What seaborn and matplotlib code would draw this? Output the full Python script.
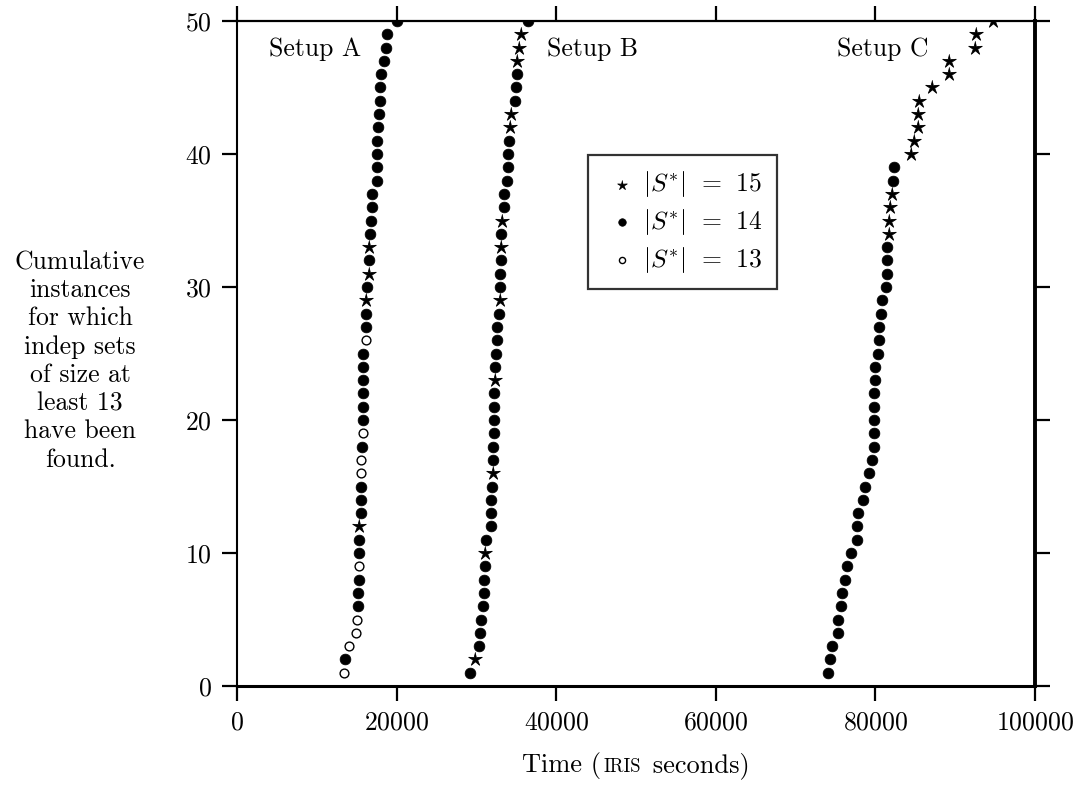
import numpy as np
import pandas as pd
import seaborn as sns
import matplotlib.pyplot as plt
from matplotlib.offsetbox import TextArea, HPacker, AnnotationBbox

# cumulative instance count (y) and time at which it was reached (x)
counts = list(range(1, 51))

times_a = [13350, 13570, 13980, 14950, 15040, 15160, 15160, 15330, 15330, 15330,
           15330, 15330, 15540, 15540, 15540, 15540, 15540, 15670, 15740, 15740,
           15740, 15740, 15740, 15800, 15800, 16210, 16210, 16210, 16210, 16290,
           16500, 16500, 16500, 16710, 16800, 16920, 16920, 17550, 17550, 17550,
           17550, 17630, 17840, 17880, 17970, 18090, 18380, 18680, 18810, 20060]
sizes_a = [13, 14, 13, 13, 13, 14, 14, 14, 13, 14,
           14, 15, 14, 14, 14, 13, 13, 14, 13, 14,
           14, 14, 14, 14, 14, 13, 14, 14, 15, 14,
           15, 14, 15, 14, 14, 14, 14, 14, 14, 14,
           14, 14, 14, 14, 14, 14, 14, 14, 14, 14]

times_b = [29150, 29770, 30310, 30440, 30530, 30820, 30940, 30940, 31030, 31030,
           31160, 31780, 31870, 31870, 32000, 32120, 32120, 32120, 32200, 32200,
           32200, 32200, 32320, 32320, 32410, 32540, 32630, 32830, 32950, 32950,
           32950, 33040, 33040, 33130, 33250, 33460, 33460, 33880, 33960, 33960,
           34080, 34210, 34300, 34840, 35010, 35050, 35050, 35340, 35640, 36520]
sizes_b = [14, 15, 14, 14, 14, 14, 14, 14, 14, 15,
           14, 14, 14, 14, 14, 15, 14, 14, 14, 14,
           14, 14, 15, 14, 14, 14, 14, 14, 15, 14,
           14, 14, 15, 14, 15, 14, 14, 14, 14, 14,
           14, 15, 15, 14, 14, 14, 15, 15, 15, 14]

times_c = [74080, 74280, 74500, 75250, 75250, 75670, 75840, 76170, 76380, 76920,
           77640, 77640, 77760, 78480, 78680, 79180, 79610, 79860, 79860, 79860,
           79860, 79860, 79940, 79940, 80360, 80440, 80490, 80690, 80870, 81280,
           81410, 81410, 81410, 81700, 81700, 81820, 82120, 82250, 82370, 84420,
           84890, 85390, 85390, 85470, 87150, 89280, 89280, 92500, 92630, 94720]
sizes_c = [14] * 33 + [15, 15, 15, 15, 14, 14] + [15] * 11

setup_names = ["Setup A", "Setup B", "Setup C"]
label_pos = [(4000, 47.9), (38900, 47.9), (75200, 47.9)]

df = pd.concat([
    pd.DataFrame({"time": t, "count": counts, "size": s, "setup": n})
    for t, s, n in zip([times_a, times_b, times_c], [sizes_a, sizes_b, sizes_c], setup_names)
])

plt.rcParams["font.family"] = "cmr10"
plt.rcParams["mathtext.fontset"] = "cm"
plt.rcParams["axes.unicode_minus"] = False
plt.rcParams["axes.formatter.use_mathtext"] = True

FS = 18.5

# thin five pointed star
ang = np.pi / 2 + np.arange(10) * np.pi / 5
rad = np.where(np.arange(10) % 2 == 0, 1.0, 0.32)
star = np.column_stack([rad * np.cos(ang), rad * np.sin(ang)])

fig = plt.figure(figsize=(10.83, 7.89), dpi=100)
ax = fig.add_axes([0.2188, 0.1305, 0.7369, 0.8429])

styles = [
    (15, star, "black", "black", 0.6, 105, r"$|S^{*}|\;\,=\;\,15$"),
    (14, "o", "black", "black", 0.5, 60, r"$|S^{*}|\;\,=\;\,14$"),
    (13, "o", "white", "black", 1.0, 40, r"$|S^{*}|\;\,=\;\,13$"),
]
for val, mk, fc, ec, lw, s, lab in styles:
    sub = df[df["size"] == val]
    sns.scatterplot(data=sub, x="time", y="count", marker=mk, s=s,
                    facecolor=fc, edgecolor=ec, linewidth=lw, label=lab, ax=ax, zorder=3)

for name, (x, y) in zip(setup_names, label_pos):
    ax.text(x, y, name, fontsize=FS, va="center", ha="left")

ax.set_xlim(0, 100000)
ax.set_ylim(0, 50)
ax.set_xticks([0, 20000, 40000, 60000, 80000, 100000])
ax.set_yticks([0, 10, 20, 30, 40, 50])
ax.tick_params(axis="both", direction="out", length=11, width=1.6, labelsize=FS,
               pad=7, top=True, right=True)
ax.spines["left"].set_linewidth(1.5)
ax.spines["top"].set_linewidth(1.6)
ax.spines["bottom"].set_linewidth(2.2)
ax.spines["right"].set_linewidth(2.8)

ax.set_xlabel("")
ax.set_ylabel("")

leg = ax.legend(loc="upper left", bbox_to_anchor=(0.44, 0.798), fontsize=FS,
                frameon=True, fancybox=False, markerscale=0.7,
                handletextpad=0.1, borderpad=0.55, labelspacing=0.3, handlelength=1.5,
                borderaxespad=0)
leg.get_frame().set_edgecolor("black")
leg.get_frame().set_linewidth(1.6)

# x label with small caps "IRIS"
parts = HPacker(children=[
    TextArea("Time (", textprops=dict(fontsize=19)),
    TextArea("IRIS", textprops=dict(fontsize=13.5)),
    TextArea(" seconds)", textprops=dict(fontsize=19)),
], align="baseline", pad=0, sep=2)
ab = AnnotationBbox(parts, (0.5, -0.12), xycoords="axes fraction",
                    frameon=False, box_alignment=(0.5, 0.5))
ax.add_artist(ab)

fig.text(0.074, 0.5425,
         "Cumulative\ninstances\nfor which\nindep sets\nof size at\nleast 13\nhave been\nfound.",
         ha="center", va="center", fontsize=FS, linespacing=1.24, multialignment="center")

fig.savefig("out.png", dpi=100)
